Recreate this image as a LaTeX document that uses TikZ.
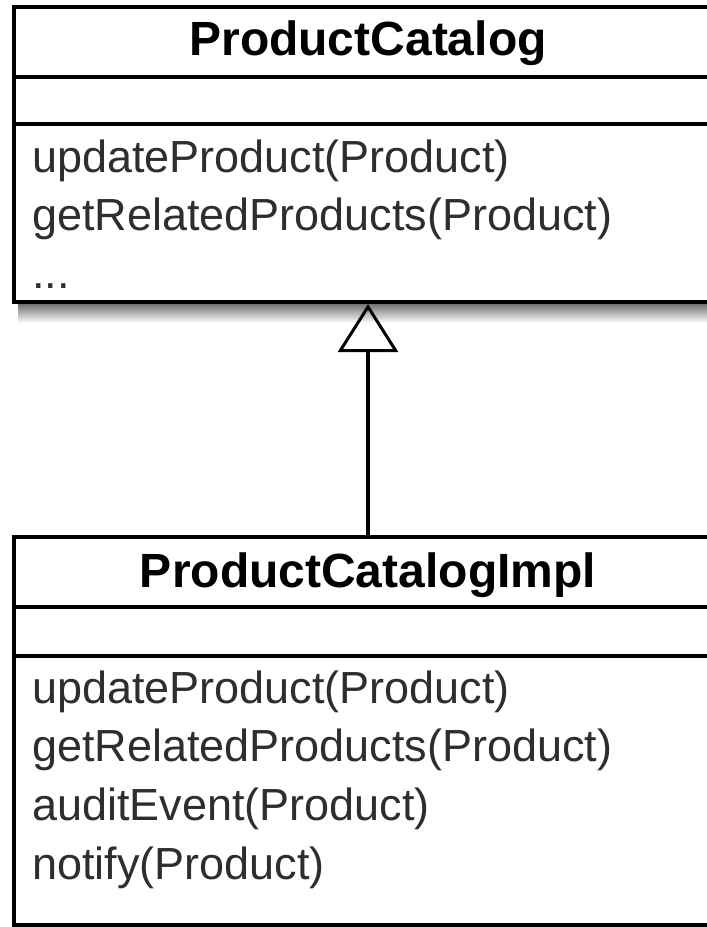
\documentclass[tikz,border=0pt]{standalone}
\usepackage{fontspec}
\setmainfont{Liberation Sans}
\usetikzlibrary{arrows.meta}
\begin{document}
\begin{tikzpicture}[x=1pt,y=-1pt,
  umlbox/.style={draw=black, line width=4pt, fill=white, inner sep=0pt, rectangle},
  divider/.style={line width=4pt},
  titletext/.style={font=\fontsize{48}{56}\selectfont\bfseries, anchor=base, inner sep=0pt, text=black},
  optext/.style={font=\fontsize{45}{54}\selectfont, anchor=base west, inner sep=0pt, text=black!82},
  realize/.style={line width=4pt, -{Triangle[open, length=48pt, width=60pt, line width=3pt]}}]
\useasboundingbox (0,0) rectangle (707,927);
\clip (0,0) rectangle (707,927);
\fill[white] (0,0) rectangle (707,927);
% shadow under the top class
\fill[top color=black!55, bottom color=white] (18,304) rectangle (740,323);
% top class
\node[umlbox, minimum width=708pt, minimum height=295pt] (pc) at (368,154.5) {};
\node[titletext] (pct) at (368,55) {ProductCatalog};
\draw[divider] (14,77) -- (722,77);
\draw[divider] (14,124) -- (722,124);
\node[optext] (pc1) at (32,172) {updateProduct(Product)};
\node[optext] (pc2) at (32,230) {getRelatedProducts(Product)};
\node[optext] (pc3) at (32,288) {...};
% bottom class
\node[umlbox, minimum width=708pt, minimum height=388pt] (pci) at (368,731) {};
\node[titletext] (pcit) at (368,587) {ProductCatalogImpl};
\draw[divider] (14,607) -- (722,607);
\draw[divider] (14,656) -- (722,656);
\node[optext] (pci1) at (32,703) {updateProduct(Product)};
\node[optext] (pci2) at (32,761) {getRelatedProducts(Product)};
\node[optext] (pci3) at (32,820) {auditEvent(Product)};
\node[optext] (pci4) at (32,879) {notify(Product)};
% realization
\draw[realize] (pci.north) -- (pc.south);
\end{tikzpicture}
\end{document}
